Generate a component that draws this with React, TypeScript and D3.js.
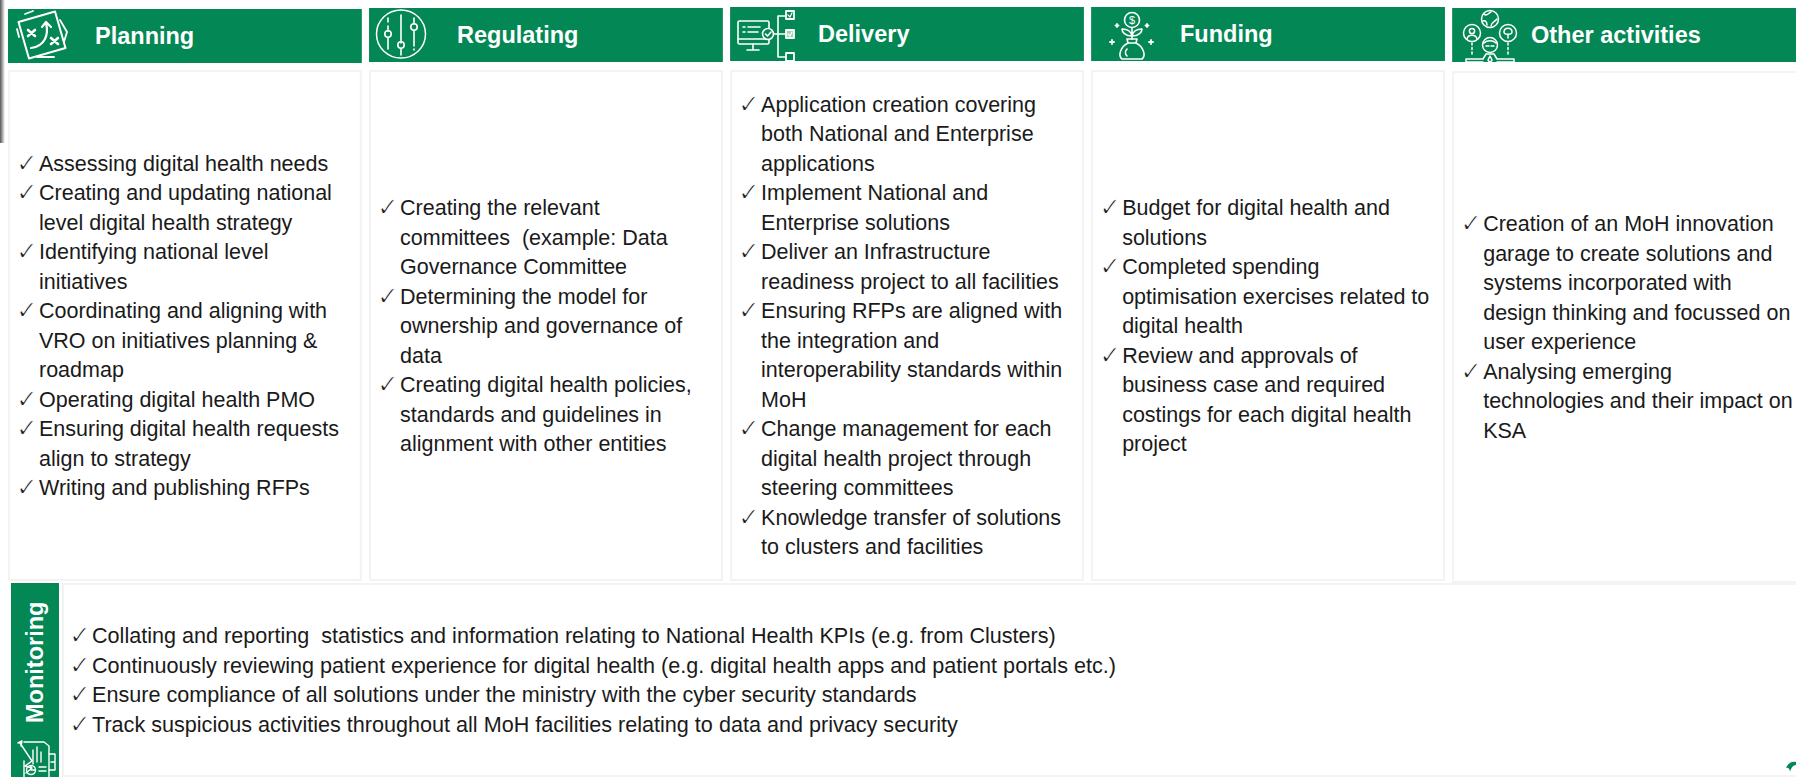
import React from 'react';
import * as d3 from 'd3';

const categories = ['Planning', 'Regulating', 'Delivery', 'Funding', 'Other activities'];

// each bullet is its wrapped lines
const planning = [
  ['Assessing digital health needs'],
  ['Creating and updating national', 'level digital health strategy'],
  ['Identifying national level', 'initiatives'],
  ['Coordinating and aligning with', 'VRO on initiatives planning &', 'roadmap'],
  ['Operating digital health PMO'],
  ['Ensuring digital health requests', 'align to strategy'],
  ['Writing and publishing RFPs'],
];
const regulating = [
  ['Creating the relevant', 'committees  (example: Data', 'Governance Committee'],
  ['Determining the model for', 'ownership and governance of', 'data'],
  ['Creating digital health policies,', 'standards and guidelines in', 'alignment with other entities'],
];
const delivery = [
  ['Application creation covering', 'both National and Enterprise', 'applications'],
  ['Implement National and', 'Enterprise solutions'],
  ['Deliver an Infrastructure', 'readiness project to all facilities'],
  ['Ensuring RFPs are aligned with', 'the integration and', 'interoperability standards within', 'MoH'],
  ['Change management for each', 'digital health project through', 'steering committees'],
  ['Knowledge transfer of solutions', 'to clusters and facilities'],
];
const funding = [
  ['Budget for digital health and', 'solutions'],
  ['Completed spending', 'optimisation exercises related to', 'digital health'],
  ['Review and approvals of', 'business case and required', 'costings for each digital health', 'project'],
];
const other = [
  ['Creation of an MoH innovation', 'garage to create solutions and', 'systems incorporated with', 'design thinking and focussed on', 'user experience'],
  ['Analysing emerging', 'technologies and their impact on', 'KSA'],
];
const monitoring = [
  ['Collating and reporting  statistics and information relating to National Health KPIs (e.g. from Clusters)'],
  ['Continuously reviewing patient experience for digital health (e.g. digital health apps and patient portals etc.)'],
  ['Ensure compliance of all solutions under the ministry with the cyber security standards'],
  ['Track suspicious activities throughout all MoH facilities relating to data and privacy security'],
];
const columns = [planning, regulating, delivery, funding, other];

const GREEN = '#038755';
const BORDER = '#f3f3f3';
const FONT = '"Liberation Sans", Arial, sans-serif';
const LINE = 29.5;

const headerTop = [9, 8, 7, 7, 8];
const panelTop = [71, 71, 71, 71, 72];
const panelBottom = [580, 580, 580, 580, 582];
const headerTextX = [95, 457, 818, 1180, 1531];

const x = d3.scaleBand<string>().domain(categories).range([8, 1806]).paddingInner(0.02);

function BulletText({ bullets, left, centre, size = 21.5 }: { bullets: string[][]; left: number; centre: number; size?: number }) {
  const count = d3.sum(bullets, (b) => b.length);
  const y = d3.scaleLinear().domain([0, count - 1]).range([
    centre - ((count - 1) * LINE) / 2,
    centre + ((count - 1) * LINE) / 2,
  ]);
  let i = 0;
  return (
    <g fontFamily={FONT} fontSize={size} fill="#1a1a1a">
      {bullets.map((lines, b) => (
        <g key={b}>
          {lines.map((line, l) => {
            const yy = y(i++) + 7.5;
            return (
              <g key={l}>
                {l === 0 && (
                  // white stroke on top thins the DejaVu tick down to the hairline one in the picture
                  <text x={left - 3} y={yy + 1} fontFamily="DejaVu Sans" fontSize={26} stroke="#fff" strokeWidth={0.9}>✓</text>
                )}
                <text x={left + 20} y={yy} xmlSpace="preserve" style={{ whiteSpace: 'pre' }}>{line}</text>
              </g>
            );
          })}
        </g>
      ))}
    </g>
  );
}

const iconProps = { fill: 'none', stroke: '#fff', strokeWidth: 1.6, strokeLinecap: 'round' as const, strokeLinejoin: 'round' as const };

function PlanningIcon() {
  return (
    <g {...iconProps} transform="translate(42,35)">
      <path d="M-17,-21 L-9,-24 M18,-15 L25,-3 L21,10 M-23,2 L-25,-6 M-5,22 L12,22" strokeWidth={1.8} />
      <rect x={-19} y={-19} width={38} height={38} transform="rotate(-16)" fill={GREEN} strokeWidth={2} />
      <path d="M-11,13 C3,11 7,0 4,-12 M0,-8 L4,-13 L9,-8" strokeWidth={2.2} />
      <path d="M-14,-5 L-7,1 M-7,-5 L-14,1 M9,3 L16,9 M16,3 L9,9" strokeWidth={2.6} />
    </g>
  );
}

function RegulatingIcon() {
  return (
    <g {...iconProps} transform="translate(401,34)">
      <ellipse rx={24.5} ry={24} strokeWidth={1.5} />
      <path d="M-13,-16 V-12 M-13,-8 V-3 M-13,4 V15" />
      <circle cx={-13} cy={0} r={3.2} />
      <path d="M0,-19 V9 M0,15 V21" />
      <circle cx={0} cy={11} r={3.2} />
      <path d="M13,-16 V-10 M13,-3 V12 M13,15 V16" />
      <circle cx={13} cy={-7} r={3.2} />
    </g>
  );
}

function DeliveryIcon() {
  return (
    <g {...iconProps} transform="translate(738,9)">
      <rect x={0} y={12} width={31} height={23} rx={1.5} />
      <path d="M0,30 H31 M15,35 V40 M9,41 H21" />
      <path d="M5,18 H7 M10,18 H22 M5,23 H7 M10,23 H20" />
      <circle cx={30} cy={25} r={5.5} fill={GREEN} />
      <path d="M27.5,25 L29.5,27 L33,23" />
      <path d="M36,25 H40 M40,7 V48 M40,7 H47 M40,25 H47 M40,48 H47" />
      <rect x={48} y={2} width={8} height={8} strokeWidth={1.8} />
      <rect x={48} y={21} width={8} height={8} strokeWidth={1.8} fill="#9fd0b8" />
      <rect x={48} y={44} width={8} height={8} strokeWidth={1.8} />
      <path d="M50,6 L52,8 L54,4 M50,25 L52,27 L54,23" strokeWidth={1.2} />
    </g>
  );
}

function FundingIcon() {
  return (
    <g {...iconProps} transform="translate(1132,36)">
      <circle cx={0} cy={-16} r={7.5} />
      <text x={0} y={-12} textAnchor="middle" fontSize={11} fontFamily={FONT} fill="#fff" stroke="none">$</text>
      <path d="M0,-8 V3 M0,0 C-7,0 -10,-4 -10,-7 C-5,-7 -1,-5 0,0 C1,-5 5,-7 10,-7 C10,-4 7,0 0,0" />
      <path d="M-5,3 H5 L4,7 H-4 Z" />
      <path d="M-4,7 C-12,11 -14,20 -10,23 H10 C14,20 12,11 4,7" />
      <path d="M-5,13 C-7,15 -7,18 -5,20" />
      <path d="M-15,-12 V-9 M-16.5,-10.5 H-13.5 M15,-12 V-9 M13.5,-10.5 H16.5 M-20,4 V8 M-22,6 H-18 M19,4 V8 M17,6 H21" strokeWidth={1.8} />
    </g>
  );
}

function OtherIcon() {
  return (
    <g {...iconProps} transform="translate(1490,10)" strokeWidth={1.5}>
      <circle cx={0} cy={9} r={8.5} />
      <path d="M-6,4 C-3,7 -2,3 1,2 M1,16 C1,12 5,12 7,9 M-7,11 C-4,10 -3,13 -3,15" />
      <circle cx={-18} cy={23} r={8.5} />
      <circle cx={-18} cy={21} r={2.6} />
      <path d="M-23,29 C-22,24 -14,24 -13,29" />
      <circle cx={18} cy={23} r={8.5} />
      <path d="M18,28 V24 M14,22 C14,17 22,17 22,22 C22,25 14,25 14,22" />
      <circle cx={0} cy={35} r={7.5} />
      <path d="M-6,33 C-3,30 3,30 6,33 M-4,36 H-1 M1,36 H4" />
      <path d="M-18,33 V46 M18,33 V46" strokeDasharray="2 2.5" />
      <path d="M-24,49 H-7 L-4,44 H4 L7,49 H24 L24,52 H7 V53 M-24,49 V52 H-7 V53 M0,46 L-2,50 L0,53 L2,50 Z" />
    </g>
  );
}

function MonitoringIcon() {
  return (
    <g {...iconProps} transform="translate(17,740)" strokeWidth={1.4}>
      <path d="M7,2 H27 L32,6 V37 M7,37 V21" />
      <path d="M1,3 L5,1 L4,6 M3,3 L15,21 L8,26 L15,28 L9,33" />
      <path d="M16,10 V24 M20,7 V22 M24,12 V22 M32,14 H38 V30 H32 M38,22 H34" />
      <circle cx={14} cy={30} r={4.5} />
      <path d="M14,30 V26 M14,30 H18.5 M22,27 H29 M22,31 H29" />
    </g>
  );
}

export default function App() {
  const band = x.bandwidth();
  return (
    <svg width={1796} height={777} style={{ position: 'absolute', left: 0, top: 0, display: 'block', background: '#fff' }}>
      <defs>
        <linearGradient id="edge" x1="0" x2="1" y1="0" y2="0">
          <stop offset="0" stopColor="#555" />
          <stop offset="1" stopColor="#fff" />
        </linearGradient>
      </defs>
      <rect x={0} y={0} width={5} height={143} fill="url(#edge)" />

      {categories.map((name, i) => {
        const left = x(name)!;
        return (
          <g key={name}>
            <rect x={left} y={headerTop[i]} width={band} height={54} fill={GREEN} />
            <text x={headerTextX[i]} y={headerTop[i] + 35} fill="#fff" fontFamily={FONT} fontWeight={700} fontSize={23.5}>{name}</text>
            <rect x={left + 1} y={panelTop[i]} width={band - 2} height={panelBottom[i] - panelTop[i]} fill="#fff" stroke={BORDER} strokeWidth={2} />
            <BulletText bullets={columns[i]} left={left + 11} centre={(panelTop[i] + panelBottom[i]) / 2} />
          </g>
        );
      })}

      <PlanningIcon />
      <RegulatingIcon />
      <DeliveryIcon />
      <FundingIcon />
      <OtherIcon />

      <rect x={11} y={583} width={48} height={194} fill={GREEN} />
      <rect x={63} y={584} width={1740} height={192} fill="#fff" stroke={BORDER} strokeWidth={2} />
      <text transform="translate(43,723) rotate(-90)" fill="#fff" fontFamily={FONT} fontWeight={700} fontSize={23.5}>Monitoring</text>
      <MonitoringIcon />
      <BulletText bullets={monitoring} left={72} centre={680} size={21.6} />

      <path d="M1786,768 C1788,763 1792,761 1796,762 L1796,765 C1793,765 1791,768 1790,772 C1790,769 1788,767 1786,768 Z" fill={GREEN} />
    </svg>
  );
}
